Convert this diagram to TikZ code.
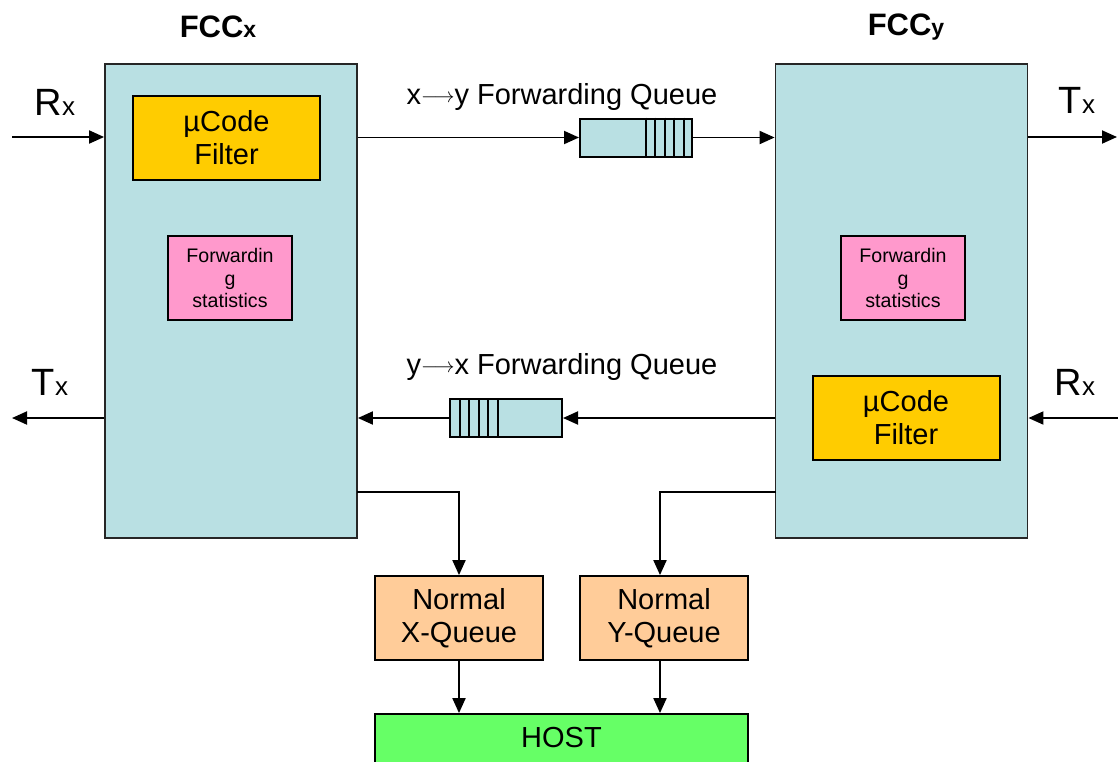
\documentclass[tikz,border=0pt]{standalone}
\usepackage{fontspec}
\setmainfont{Liberation Sans}
\usetikzlibrary{arrows.meta}

\definecolor{fccblue}{RGB}{185,224,227}
\definecolor{filtgold}{RGB}{255,204,0}
\definecolor{statpink}{RGB}{255,153,204}
\definecolor{normpeach}{RGB}{255,204,153}
\definecolor{hostgreen}{RGB}{102,255,102}

\newcommand\boxfont{\fontsize{29}{33}\selectfont}
\newcommand\portfont{\fontsize{38}{40}\selectfont}
\newcommand\portsubx[1]{{\fontsize{26}{26}\selectfont #1}}
\newcommand\titlesubx[1]{{\fontsize{23}{23}\selectfont #1}}
\newcommand\qarrow{\raisebox{2.5pt}{\fontsize{22}{22}\selectfont$\longrightarrow$}}

\tikzset{
  fccbox/.style={draw=black!85, fill=fccblue, line width=1.8pt, inner sep=0pt},
  filterbox/.style={draw=black, fill=filtgold, line width=2pt, minimum width=187pt, minimum height=84pt, align=center, font=\boxfont},
  statbox/.style={draw=black, fill=statpink, line width=2pt, minimum width=124pt, minimum height=84pt, align=center, font=\fontsize{19.6}{22.5}\selectfont},
  queuebox/.style={draw=black, fill=fccblue, line width=2pt, minimum width=112pt, minimum height=38pt, inner sep=0pt},
  normbox/.style={draw=black, fill=normpeach, line width=1.8pt, minimum width=168pt, minimum height=84pt, align=center, font=\boxfont},
  hostbox/.style={draw=black, fill=hostgreen, line width=1.8pt, minimum width=373pt, minimum height=76pt},
  portlbl/.style={font=\portfont, inner sep=0pt},
  titlelbl/.style={font=\fontsize{31}{31}\selectfont\bfseries, inner sep=0pt},
  qlbl/.style={font=\boxfont, inner sep=0pt},
}

\begin{document}
\begin{tikzpicture}[x=1pt,y=-1pt, >={Triangle[length=15pt,width=13pt]}, line width=1.9pt]
%%%%% FRAME %%%%%
\clip (0,0) rectangle (1118,761);

%%%%% FCC BLOCKS %%%%%
\node[fccbox, minimum width=252pt, minimum height=474pt] (fccx) at (231,301) {};
\node[fccbox, minimum width=252pt, minimum height=474pt] (fccy) at (901.5,301) {};
\node[titlelbl] (fccxlbl) at (218,27) {FCC\titlesubx{x}};
\node[titlelbl] (fccylbl) at (906,27) {FCC\titlesubx{y}};

\node[filterbox] (filtx) at (226.5,138) {µCode\\Filter};
\node[statbox] (statx) at (230,278) {Forwardin\\g\\statistics};
\node[statbox] (staty) at (903,278) {Forwardin\\g\\statistics};
\node[filterbox] (filty) at (906,418) {µCode\\Filter};

%%%%% FORWARDING QUEUES %%%%%
\node[queuebox] (xyq) at (636,137.5) {};
\foreach \d in {9.5,19,28.5,38,47.5}
  \draw[line width=2pt] ([xshift=-\d pt]xyq.north east) -- ([xshift=-\d pt]xyq.south east);
\node[queuebox] (yxq) at (506,418) {};
\foreach \d in {10.5,20,29.5,39,48.5}
  \draw[line width=2pt] ([xshift=\d pt]yxq.north west) -- ([xshift=\d pt]yxq.south west);
\node[qlbl] (xylbl) at (562,97) {x\qarrow y Forwarding Queue};
\node[qlbl] (yxlbl) at (562,367) {y\qarrow x Forwarding Queue};

\draw[->] (fccx.east |- xyq) -- (xyq.west);
\draw[->] (xyq.east) -- (xyq -| fccy.west);
\draw[->] (fccy.west |- yxq) -- (yxq.east);
\draw[->] (yxq.west) -- (yxq -| fccx.east);

%%%%% PORTS %%%%%
\node[portlbl] (rxllbl) at (55,102) {R\portsubx{x}};
\node[portlbl] (txllbl) at (50,382) {T\portsubx{x}};
\node[portlbl] (txrlbl) at (1077,100) {T\portsubx{x}};
\node[portlbl] (rxrlbl) at (1075,382) {R\portsubx{x}};

\coordinate (rxl) at (12,137);
\coordinate (txl) at (12,418);
\coordinate (txr) at (1117,137);
\coordinate (rxr) at (1118,418);
\draw[->] (rxl) -- (rxl -| fccx.west);
\draw[->] (txl -| fccx.west) -- (txl);
\draw[->] (txr -| fccy.east) -- (txr);
\draw[->] (rxr) -- (rxr -| fccy.east);

%%%%% HOST SIDE %%%%%
\node[normbox] (nxq) at (459,618) {Normal\\X-Queue};
\node[normbox] (nyq) at (664,618) {Normal\\Y-Queue};
\node[hostbox] (host) at (561.5,752) {};
\node[qlbl] (hostlbl) at (561.5,738) {HOST};

\coordinate (xout) at (357,492);
\coordinate (yout) at (776,492);
\draw[->] (xout) -| (nxq.north);
\draw[->] (yout) -| ([xshift=-4pt]nyq.north);
\draw[->] (nxq.south) -- (nxq.south |- host.north);
\draw[->] ([xshift=-4pt]nyq.south) -- ([xshift=-4pt]nyq.south |- host.north);

\end{tikzpicture}
\end{document}
